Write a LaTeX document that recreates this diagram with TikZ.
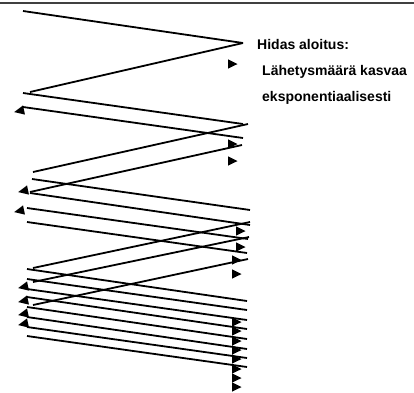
\documentclass[tikz,border=0pt]{standalone}
\usepackage{fontspec}
\setmainfont{Liberation Sans}
\usepackage{tikz}

\tikzset{
  segline/.style={line width=1.8pt},
  notetext/.style={font=\bfseries\fontsize{14}{16}\selectfont, anchor=base west, inner sep=0pt},
  % arrow heads at the receiver (right) and at the sender (left)
  pics/sendtip/.style={code={\fill (0,-4.7) -- (9.5,0) -- (0,4.7) -- cycle;}},
  pics/acktip/.style={code={\fill[rotate=12] (0,-4.7) -- (-10,0) -- (0,4.7) -- cycle;}}
}

\begin{document}
\begin{tikzpicture}[x=1pt,y=-1pt]
    \useasboundingbox (0,0) rectangle (414,392);

    % Top rule
    \draw[black!75, line width=2pt] (0,2.5) -- (414,2.5);

    % Segments, sender -> receiver
    \foreach \xa/\ya/\xb/\yb in {23/11/243/43,
        23/93/243/124, 23/107/243/138,
        32/179/250/210, 30/193/250/225, 27/208/248/239, 27/222/247/253,
        27/269/247/301, 27/279/247/310, 27/289/247/320, 27/297/247/329,
        27/307/247/339, 27/317/247/349, 27/327/247/358, 27/336/247/367}
      \draw[segline] (\xa,\ya) -- (\xb,\yb);

    % Acknowledgements, receiver -> sender
    \foreach \xa/\ya/\xb/\yb in {243/43/30/92,
        248/124/33/172, 242/145/30/192,
        250/222/33/268, 249/237/33/282, 248/259/33/305}
      \draw[segline] (\xa,\ya) -- (\xb,\yb);

    % Arrow heads
    \foreach \x/\y in {228/64, 228/144, 228/161, 236/231, 236/247, 232/260, 232/274,
        232/322, 232/331, 232/341, 232/350, 232/359, 232/369, 232/378, 232/387}
      \pic at (\x,\y) {sendtip};
    \foreach \x/\y in {24/110, 28/190, 24/210, 28/286, 28/300, 28/313, 28/323}
      \pic at (\x,\y) {acktip};

    % Note
    \node[notetext] (title) at (257,49.5) {Hidas aloitus:};
    \node[notetext] (rate) at (262,75.5) {Lähetysmäärä kasvaa};
    \node[notetext] (growth) at (262,101.5) {eksponentiaalisesti};
\end{tikzpicture}
\end{document}
